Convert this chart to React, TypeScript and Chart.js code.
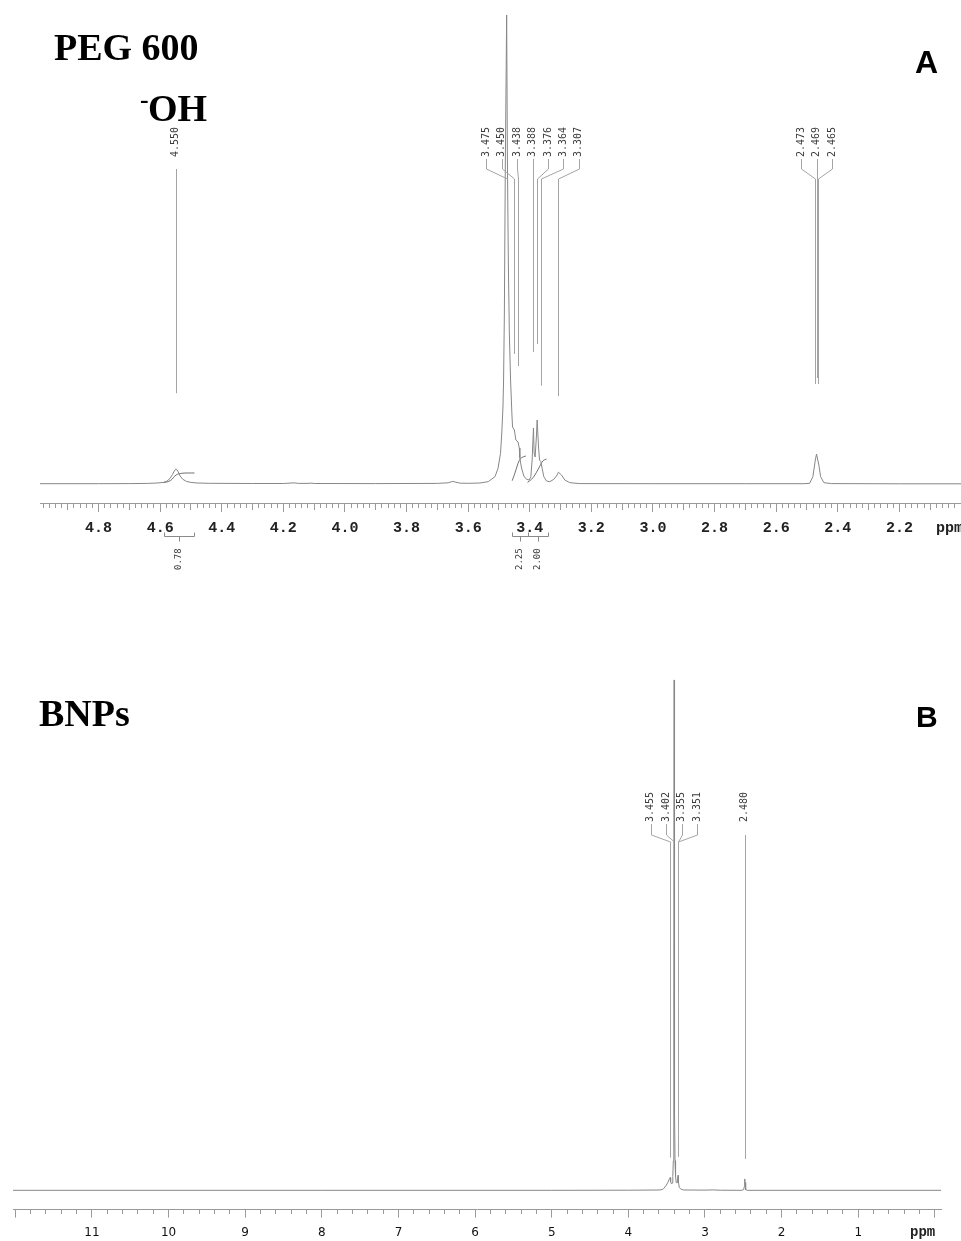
import React, { useEffect, useRef } from "react";
import { Chart, registerables } from "chart.js";
Chart.register(...registerables);

// ---------- Panel A : PEG 600 ----------
const specAppm = [
  4.99, 4.8, 4.7, 4.64, 4.61, 4.59, 4.578, 4.568, 4.56, 4.554, 4.55, 4.546, 4.541, 4.535, 4.527, 4.515, 4.5, 4.48, 4.44,
  4.3, 4.2, 4.175, 4.165, 4.15, 4.12, 4.11, 4.1, 3.9, 3.7, 3.665, 3.65, 3.64, 3.625, 3.6,
  3.562, 3.535, 3.513, 3.503, 3.495, 3.491, 3.487, 3.485, 3.4825, 3.4792, 3.475, 3.4727, 3.4695, 3.4662, 3.4623,
  3.4581, 3.4559, 3.45, 3.4451, 3.438, 3.434, 3.4322, 3.4267, 3.4192, 3.4104, 3.402, 3.3965, 3.3923, 3.388,
  3.3858, 3.3825, 3.378, 3.376, 3.3715, 3.3683, 3.364, 3.3599, 3.3543, 3.3456, 3.3349, 3.3219, 3.3112, 3.307,
  3.2969, 3.2862, 3.27, 3.2376, 3.0, 2.7, 2.51, 2.4915, 2.4808, 2.4753, 2.473, 2.469, 2.465, 2.4614, 2.4558,
  2.4451, 2.42, 2.2, 2.0,
];
const specAint = [
  0.3, 0.3, 0.4, 0.6, 1.0, 1.6, 2.8, 5.5, 9.5, 13.0, 14.8, 14.5, 12.0, 8.0, 4.8, 2.6, 1.6, 1.0, 0.7,
  0.5, 0.5, 1.0, 1.1, 0.6, 0.6, 0.9, 0.5, 0.4, 0.6, 1.2, 2.6, 1.8, 0.8, 0.7,
  1.0, 2.3, 7.3, 15.7, 30.7, 50, 77, 104, 169, 325, 469, 330, 220, 150, 104,
  71, 57, 54, 44, 42, 36, 26, 16, 8, 4.7, 4, 7.3, 24, 56,
  31, 27, 50, 64, 37, 24, 22.3, 15.7, 7.3, 3, 2.3, 4.7, 9, 11.8,
  9, 4, 1.3, 0.4, 0.3, 0.3, 0.3, 0.7, 7.3, 19, 24, 30, 24, 19, 7.3,
  1.3, 0.4, 0.2, 0.2,
];
const integA1ppm = [4.589, 4.567, 4.548, 4.5295, 4.509, 4.4886];
const integA1int = [1.3, 3.3, 9, 10.7, 11, 11];
const integA2ppm = [3.4571, 3.4484, 3.4409, 3.4344, 3.4267, 3.4127];
const integA2int = [3.3, 10.7, 18, 23.3, 26.3, 28];
const integA3ppm = [3.4072, 3.3942, 3.3835, 3.3728, 3.3641, 3.3566, 3.3456];
const integA3int = [1.7, 4.7, 9, 14.7, 19.7, 23.3, 25];

const peakGroupsA = [[4.55], [3.475, 3.45, 3.438, 3.388, 3.376, 3.364, 3.307], [2.473, 2.469, 2.465]];
const integGroupsA = [[[4.589, 4.489]], [[3.457, 3.407], [3.407, 3.34]]];
const integLabelsA = [["0.78"], ["2.25", "2.00"]];
const tickLabelsA = ["4.8", "4.6", "4.4", "4.2", "4.0", "3.8", "3.6", "3.4", "3.2", "3.0", "2.8", "2.6", "2.4", "2.2"];

// ---------- Panel B : BNPs ----------
const specBppm = [
  12.03, 8.0, 5.0, 4.0, 3.6, 3.56, 3.539, 3.504, 3.482, 3.468, 3.455, 3.448, 3.44, 3.43, 3.42, 3.413, 3.408,
  3.405, 3.402, 3.399, 3.396, 3.391, 3.384, 3.375, 3.365, 3.357, 3.351, 3.346, 3.334, 3.315, 3.278, 3.0, 2.9,
  2.8, 2.52, 2.495, 2.487, 2.483, 2.48, 2.477, 2.473, 2.465, 2.45, 0.0, -0.08,
];
const specBint = [
  0.3, 0.3, 0.3, 0.4, 0.6, 1.0, 2.0, 5.5, 8.5, 11, 13, 9, 7, 7.5, 14, 30, 80,
  200, 511, 200, 80, 30, 14, 8, 8, 13, 15.3, 8, 3, 1.5, 0.6, 0.5, 0.7,
  0.4, 0.3, 1, 4, 8, 11.7, 8, 4, 1, 0.3, 0.3, 0.3,
];
const peakGroupsB = [[3.455, 3.402, 3.355, 3.351], [2.48]];
const tickLabelsB = ["11", "10", "9", "8", "7", "6", "5", "4", "3", "2", "1"];

const SPEC_COLOR = "#878787";
const LINE_COLOR = "#a4a4a4";
const AXIS_COLOR = "#9a9a9a";

function valueAt(ppm: number[], val: number[], p: number) {
  for (let i = 0; i < ppm.length - 1; i++) {
    const a = ppm[i], b = ppm[i + 1];
    if ((p <= a && p >= b) || (p >= a && p <= b)) {
      const t = a === b ? 0 : (p - a) / (b - a);
      return val[i] + t * (val[i + 1] - val[i]);
    }
  }
  return 0;
}

function pts(x: number[], y: number[]) {
  return x.map((v, i) => ({ x: v, y: y[i] }));
}

type PeakCfg = { spacing: number; textBottom: number; y1: number; y2: number; y3: number; gap: number };

function drawPeaks(chart: any, groups: number[][], sp: number[], si: number[], cfg: PeakCfg) {
  const { ctx } = chart;
  const xs = chart.scales.x;
  const ys = chart.scales.y;
  ctx.save();
  ctx.strokeStyle = LINE_COLOR;
  ctx.lineWidth = 1;
  ctx.fillStyle = "#3a3a3a";
  ctx.font = '10px "DejaVu Sans Mono", monospace';
  for (const g of groups) {
    const px = g.map((p) => xs.getPixelForValue(p));
    const c = (px[0] + px[px.length - 1]) / 2;
    g.forEach((p, i) => {
      const lx = c + (i - (g.length - 1) / 2) * cfg.spacing;
      ctx.save();
      ctx.translate(lx, cfg.textBottom);
      ctx.rotate(-Math.PI / 2);
      ctx.textAlign = "left";
      ctx.textBaseline = "middle";
      ctx.fillText(p.toFixed(3), 0, 0);
      ctx.restore();
      const inten = valueAt(sp, si, p);
      let end = ys.getPixelForValue(inten) - cfg.gap;
      if (end < cfg.y3) end = cfg.y3;
      const a = Math.round(lx) + 0.5;
      const b = Math.round(px[i]) + 0.5;
      ctx.beginPath();
      if (g.length === 1) {
        ctx.moveTo(a, cfg.y2);
      } else {
        ctx.moveTo(a, cfg.y1);
        ctx.lineTo(a, cfg.y2);
        ctx.lineTo(b, cfg.y3);
      }
      ctx.lineTo(b, end);
      ctx.stroke();
    });
  }
  ctx.restore();
}

function drawIntegrals(chart: any) {
  const { ctx } = chart;
  const xs = chart.scales.x;
  const yb = 536.5, yUp = 532.5, yDown = 541.5, textBottom = 570;
  ctx.save();
  ctx.strokeStyle = "#8a8a8a";
  ctx.lineWidth = 1;
  ctx.fillStyle = "#3a3a3a";
  ctx.font = '9px "DejaVu Sans Mono", monospace';
  integGroupsA.forEach((grp, gi) => {
    const x0 = Math.round(xs.getPixelForValue(grp[0][0])) + 0.5;
    const x1 = Math.round(xs.getPixelForValue(grp[grp.length - 1][1])) + 0.5;
    ctx.beginPath();
    ctx.moveTo(x0, yb);
    ctx.lineTo(x1, yb);
    const bounds = grp.map((r) => r[0]).concat([grp[grp.length - 1][1]]);
    bounds.forEach((bv) => {
      const bx = Math.round(xs.getPixelForValue(bv)) + 0.5;
      ctx.moveTo(bx, yb);
      ctx.lineTo(bx, yUp);
    });
    ctx.stroke();
    grp.forEach((r, ri) => {
      const cx = xs.getPixelForValue((r[0] + r[1]) / 2);
      const cxs = Math.round(cx) + 0.5;
      ctx.beginPath();
      ctx.moveTo(cxs, yb);
      ctx.lineTo(cxs, yDown);
      ctx.stroke();
      ctx.save();
      ctx.translate(cx, textBottom);
      ctx.rotate(-Math.PI / 2);
      ctx.textAlign = "left";
      ctx.textBaseline = "middle";
      ctx.fillText(integLabelsA[gi][ri], 0, 0);
      ctx.restore();
    });
  });
  ctx.restore();
}

function nearMultiple(v: number, step: number) {
  const q = v / step;
  return Math.abs(q - Math.round(q)) < 1e-6;
}

function findLabel(list: string[], v: number) {
  const l = list.find((s) => Math.abs(Number(s) - v) < 1e-6);
  return l === undefined ? "" : l;
}

export default function App() {
  const refA = useRef<HTMLCanvasElement | null>(null);
  const refB = useRef<HTMLCanvasElement | null>(null);

  useEffect(() => {
    document.body.style.margin = "0";
    const chartA = new Chart(refA.current as HTMLCanvasElement, {
      type: "line",
      data: {
        datasets: [
          { data: pts(specAppm, specAint), borderColor: SPEC_COLOR, borderWidth: 1, pointRadius: 0, tension: 0, fill: false },
          { data: pts(integA1ppm, integA1int), borderColor: "#6e6e6e", borderWidth: 1, pointRadius: 0, tension: 0.4, fill: false },
          { data: pts(integA2ppm, integA2int), borderColor: "#6e6e6e", borderWidth: 1, pointRadius: 0, tension: 0.4, fill: false },
          { data: pts(integA3ppm, integA3int), borderColor: "#6e6e6e", borderWidth: 1, pointRadius: 0, tension: 0.4, fill: false },
        ],
      },
      options: {
        responsive: false,
        animation: false,
        events: [],
        layout: { padding: { left: 40, right: 0, top: 0, bottom: 56 } },
        plugins: { legend: { display: false }, tooltip: { enabled: false } },
        scales: {
          x: {
            type: "linear",
            reverse: true,
            min: 2.0,
            max: 4.99,
            border: { display: true, color: AXIS_COLOR, width: 1 },
            grid: {
              drawOnChartArea: false,
              drawTicks: true,
              tickLength: 9,
              tickColor: AXIS_COLOR,
              tickWidth: 1,
              tickBorderDash: (c: any) => {
                const v = c.tick ? c.tick.value : 0;
                if (nearMultiple(v, 0.2)) return [];
                if (nearMultiple(v, 0.1)) return [6, 40];
                return [4, 40];
              },
            },
            ticks: {
              stepSize: 0.02,
              autoSkip: false,
              maxRotation: 0,
              minRotation: 0,
              includeBounds: false,
              padding: 7,
              color: "#222",
              font: { family: '"Liberation Mono", "Courier New", monospace', size: 15, weight: "bold" },
              callback: (v: any) => findLabel(tickLabelsA, Number(v)),
            },
          },
          y: { display: false, min: -19, max: 484 },
        },
      },
      plugins: [
        {
          id: "annA",
          afterDraw(chart: any) {
            drawPeaks(chart, peakGroupsA, specAppm, specAint, { spacing: 15.4, textBottom: 157, y1: 159, y2: 169, y3: 179, gap: 76 });
            drawIntegrals(chart);
            const { ctx } = chart;
            ctx.save();
            ctx.fillStyle = "#222";
            ctx.font = 'bold 15px "Liberation Mono", "Courier New", monospace';
            ctx.textAlign = "left";
            ctx.textBaseline = "middle";
            ctx.fillText("ppm", 936, chart.scales.x.top + 9 + 7 + 9);
            ctx.restore();
          },
        },
      ],
    } as any);

    const chartB = new Chart(refB.current as HTMLCanvasElement, {
      type: "line",
      data: {
        datasets: [
          { data: pts(specBppm, specBint), borderColor: SPEC_COLOR, borderWidth: 1, pointRadius: 0, tension: 0, fill: false },
        ],
      },
      options: {
        responsive: false,
        animation: false,
        events: [],
        layout: { padding: { left: 13, right: 20, top: 0, bottom: 12 } },
        plugins: { legend: { display: false }, tooltip: { enabled: false } },
        scales: {
          x: {
            type: "linear",
            reverse: true,
            min: -0.08,
            max: 12.03,
            border: { display: true, color: AXIS_COLOR, width: 1 },
            grid: {
              drawOnChartArea: false,
              drawTicks: true,
              tickLength: 8,
              tickColor: AXIS_COLOR,
              tickWidth: 1,
              tickBorderDash: (c: any) => {
                const v = c.tick ? c.tick.value : 0;
                if (nearMultiple(v, 1)) return [];
                return [4, 40];
              },
            },
            ticks: {
              stepSize: 0.2,
              autoSkip: false,
              maxRotation: 0,
              minRotation: 0,
              includeBounds: false,
              padding: 8,
              color: "#111",
              font: { family: '"DejaVu Sans", sans-serif', size: 12 },
              callback: (v: any) => findLabel(tickLabelsB, Number(v)),
            },
          },
          y: { display: false, min: -19, max: 571 },
        },
      },
      plugins: [
        {
          id: "annB",
          afterDraw(chart: any) {
            drawPeaks(chart, peakGroupsB, specBppm, specBint, { spacing: 15.6, textBottom: 202, y1: 204, y2: 215, y3: 222, gap: 20 });
            const { ctx } = chart;
            ctx.save();
            ctx.fillStyle = "#222";
            ctx.font = 'bold 14px "Liberation Mono", "Courier New", monospace';
            ctx.textAlign = "left";
            ctx.textBaseline = "middle";
            ctx.fillText("ppm", 910, chart.scales.x.top + 8 + 8 + 7.2);
            ctx.restore();
          },
        },
      ],
    } as any);

    return () => {
      chartA.destroy();
      chartB.destroy();
    };
  }, []);

  const serif = '"Liberation Serif", "Times New Roman", serif';
  const sans = '"Liberation Sans", Arial, sans-serif';
  const abs = (left: number, top: number, size: number, family: string): React.CSSProperties => ({
    position: "absolute",
    left,
    top,
    fontSize: size,
    lineHeight: 1,
    fontFamily: family,
    fontWeight: "bold",
    color: "#000",
    whiteSpace: "nowrap",
  });

  return (
    <div style={{ position: "fixed", left: 0, top: 0, width: 961, height: 1241, overflow: "hidden", background: "#fff" }}>
      <canvas ref={refA} width={968} height={600} style={{ position: "absolute", left: 0, top: 0, width: 968, height: 600 }} />
      <canvas ref={refB} width={961} height={640} style={{ position: "absolute", left: 0, top: 620, width: 961, height: 640 }} />
      <div style={abs(54, 28, 38, serif)}>PEG 600</div>
      <div style={abs(140, 87, 26, serif)}>-</div>
      <div style={abs(148, 89, 38, serif)}>OH</div>
      <div style={abs(915, 46, 32, sans)}>A</div>
      <div style={abs(39, 694, 38, serif)}>BNPs</div>
      <div style={abs(916, 702, 30, sans)}>B</div>
    </div>
  );
}
